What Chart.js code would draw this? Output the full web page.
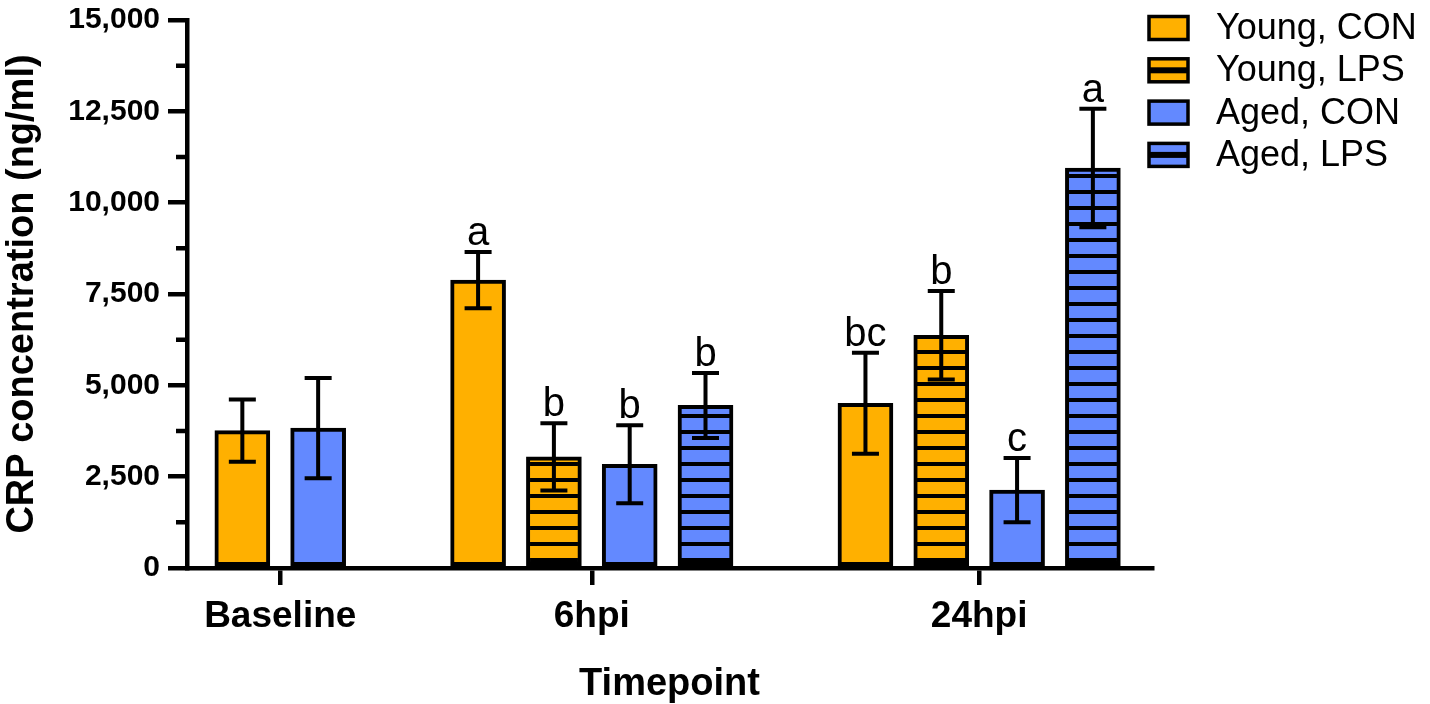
<!DOCTYPE html>
<html>
<head>
<meta charset="utf-8">
<script src="https://cdn.jsdelivr.net/npm/chart.js@4.4.1/dist/chart.umd.min.js"></script>
<style>
  html, body { margin: 0; padding: 0; background: #fff; }
</style>
</head>
<body>
<canvas id="crpChart" width="1430" height="704"></canvas>
<script>
// CRP concentration (ng/ml) by timepoint, mean +/- error
const timepoints = ['Baseline', '6hpi', '24hpi'];
const seriesNames = ['Young, CON', 'Young, LPS', 'Aged, CON', 'Aged, LPS'];

const youngCon = [3760, 7880, 4510];
const youngLps = [null, 3040, 6370];
const agedCon = [3830, 2840, 2130];
const agedLps = [null, 4450, 10950];

const youngConErr = [850, 770, 1380];
const youngLpsErr = [null, 920, 1210];
const agedConErr = [1370, 1070, 880];
const agedLpsErr = [null, 890, 1620];

const youngConLetters = ['', 'a', 'bc'];
const youngLpsLetters = ['', 'b', 'b'];
const agedConLetters = ['', 'b', 'c'];
const agedLpsLetters = ['', 'b', 'a'];

const yTicks = [0, 2500, 5000, 7500, 10000, 12500, 15000];

const FONT = '"Liberation Sans", Arial, Helvetica, sans-serif';
const ORANGE = '#FFB000';
const BLUE = '#6389FF';

const seriesValues = [youngCon, youngLps, agedCon, agedLps];
const seriesErrs = [youngConErr, youngLpsErr, agedConErr, agedLpsErr];
const seriesLetters = [youngConLetters, youngLpsLetters, agedConLetters, agedLpsLetters];
const seriesColors = [ORANGE, ORANGE, BLUE, BLUE];
const seriesHatched = [false, true, false, true];

const canvas = document.getElementById('crpChart');
const ctx = canvas.getContext('2d');

// horizontal black stripes over the fill colour
function stripes(color) {
  const tile = document.createElement('canvas');
  tile.width = 8; tile.height = 16;
  const g = tile.getContext('2d');
  g.fillStyle = color; g.fillRect(0, 0, 8, 16);
  g.fillStyle = '#000';
  g.fillRect(0, 0, 8, 2); g.fillRect(0, 14, 8, 2);
  return ctx.createPattern(tile, 'repeat');
}

// bars sit one slot apart inside a timepoint, with an extra gap between timepoints
const groupGap = 1.11;
const slotX = seriesValues.map(() => []);
const groupCenters = [];
let cursor = 0;
timepoints.forEach((t, g) => {
  const xs = [];
  seriesValues.forEach((vals, s) => {
    if (vals[g] !== null) { slotX[s][g] = cursor; xs.push(cursor); cursor += 1; }
  });
  groupCenters.push((xs[0] + xs[xs.length - 1]) / 2);
  cursor += groupGap;
});

const datasets = seriesNames.map((name, s) => ({
  label: name,
  data: timepoints
    .map((t, g) => seriesValues[s][g] === null ? null :
      { x: slotX[s][g], y: seriesValues[s][g], err: seriesErrs[s][g], letter: seriesLetters[s][g] })
    .filter(Boolean),
  backgroundColor: seriesHatched[s] ? stripes(seriesColors[s]) : seriesColors[s],
  baseColor: seriesColors[s],
  hatched: seriesHatched[s],
  borderColor: '#000',
  borderWidth: 4,
  borderSkipped: false,
  barThickness: 55,
  grouped: false
}));

const extras = {
  id: 'extras',
  afterDatasetsDraw(chart) {
    const c = chart.ctx;
    const y = chart.scales.y;
    const area = chart.chartArea;
    c.save();
    c.strokeStyle = '#000';
    c.fillStyle = '#000';
    c.lineWidth = 4;
    c.font = '40px ' + FONT;
    c.textAlign = 'center';
    c.textBaseline = 'alphabetic';

    // error bars + letters
    chart.data.datasets.forEach((ds, di) => {
      chart.getDatasetMeta(di).data.forEach((bar, i) => {
        const p = ds.data[i];
        const top = y.getPixelForValue(p.y + p.err);
        const bot = y.getPixelForValue(p.y - p.err);
        c.beginPath();
        c.moveTo(bar.x, top); c.lineTo(bar.x, bot);
        c.moveTo(bar.x - 13.5, top); c.lineTo(bar.x + 13.5, top);
        c.moveTo(bar.x - 13.5, bot); c.lineTo(bar.x + 13.5, bot);
        c.stroke();
        if (p.letter) c.fillText(p.letter, bar.x, top - 7);
      });
    });

    // minor ticks halfway between labelled ticks
    c.lineWidth = 4.5;
    c.beginPath();
    for (let i = 0; i < yTicks.length - 1; i++) {
      const py = y.getPixelForValue((yTicks[i] + yTicks[i + 1]) / 2);
      c.moveTo(area.left - 11, py); c.lineTo(area.left, py);
    }
    c.stroke();

    // legend
    c.font = '36px ' + FONT;
    c.textAlign = 'left';
    chart.data.datasets.forEach((ds, i) => {
      const cy = 28 + i * 42.3;
      const bx = 1149, bw = 39, bh = 23;
      c.fillStyle = ds.baseColor;
      c.fillRect(bx, cy - bh / 2, bw, bh);
      if (ds.hatched) {
        c.fillStyle = '#000';
        c.fillRect(bx, cy - 3, bw, 6);
      }
      c.lineWidth = 3.5;
      c.strokeRect(bx, cy - bh / 2, bw, bh);
      c.fillStyle = '#000';
      c.fillText(ds.label, 1216, cy + 11);
    });
    c.restore();
  }
};

new Chart(ctx, {
  type: 'bar',
  data: { datasets: datasets },
  options: {
    responsive: false,
    animation: false,
    layout: { padding: { left: 0, right: 278, top: 20, bottom: 0 } },
    plugins: { legend: { display: false }, tooltip: { enabled: false } },
    scales: {
      x: {
        type: 'linear',
        min: -0.73,
        max: 12.0,
        offset: false,
        afterBuildTicks: s => { s.ticks = groupCenters.map(v => ({ value: v })); },
        afterFit: s => { s.height = 136; s.paddingLeft = 0; s.paddingRight = 0; },
        ticks: {
          autoSkip: false, maxRotation: 0, color: '#000', padding: 10,
          font: { family: FONT, size: 37, weight: 'bold' },
          callback: (v, i) => timepoints[i]
        },
        grid: { drawOnChartArea: false, offset: false, color: '#000', lineWidth: 4.5, tickLength: 17 },
        border: { color: '#000', width: 4.5 },
        title: {
          display: true, text: 'Timepoint', color: '#000',
          font: { family: FONT, size: 38, weight: 'bold', lineHeight: 1.0 },
          padding: { top: 0, bottom: 0 }
        }
      },
      y: {
        min: 0,
        max: 15000,
        afterBuildTicks: s => { s.ticks = yTicks.map(v => ({ value: v })); },
        afterFit: s => { s.width = 187; s.paddingTop = 0; s.paddingBottom = 0; },
        ticks: {
          color: '#000', padding: 8,
          font: { family: FONT, size: 30, weight: 'bold' },
          callback: v => v.toLocaleString('en-US')
        },
        grid: { drawOnChartArea: false, color: '#000', lineWidth: 4.5, tickLength: 19 },
        border: { color: '#000', width: 4.5 },
        title: {
          display: true, text: 'CRP concentration (ng/ml)', color: '#000',
          font: { family: FONT, size: 38, weight: 'bold' },
          padding: { top: 0, bottom: 0 }
        }
      }
    }
  },
  plugins: [extras]
});
</script>
</body>
</html>
